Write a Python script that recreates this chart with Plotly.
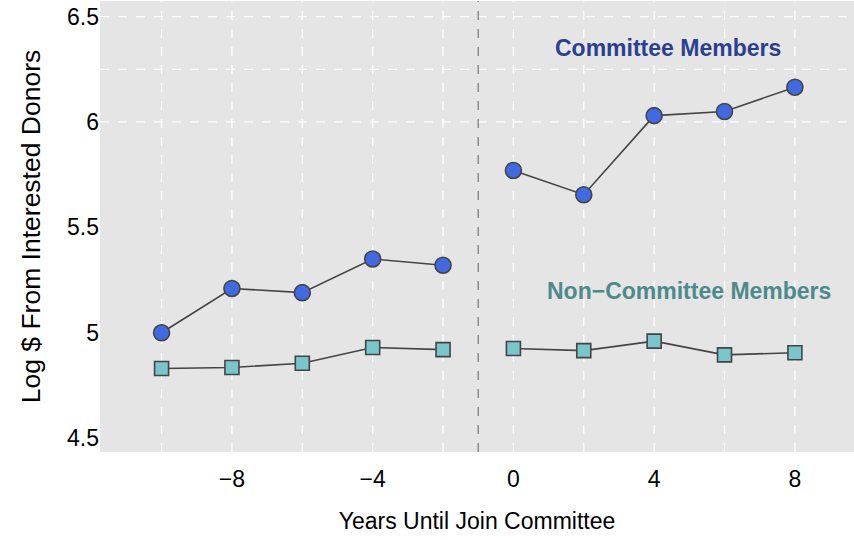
import plotly.graph_objects as go

years_pre = [-10, -8, -6, -4, -2]
years_post = [0, 2, 4, 6, 8]
comm_pre = [5.00, 5.21, 5.19, 5.35, 5.32]
comm_post = [5.77, 5.655, 6.03, 6.05, 6.165]
non_pre = [4.83, 4.835, 4.855, 4.93, 4.92]
non_post = [4.925, 4.915, 4.96, 4.895, 4.905]
x_ticks = [-8, -4, 0, 4, 8]
x_tick_text = ["\u22128", "\u22124", "0", "4", "8"]
y_ticks = [4.5, 5, 5.5, 6, 6.5]
y_tick_text = ["4.5", "5", "5.5", "6", "6.5"]
h_grid = [6.0, 6.25, 6.5]
v_grid = [-10, -8, -6, -4, -2, 0, 2, 4, 6, 8]

fig = go.Figure()

line_style = dict(color="#444444", width=1.6)
for xs, ys in [(years_pre, non_pre), (years_post, non_post)]:
    fig.add_trace(go.Scatter(x=xs, y=ys, mode="lines+markers", line=line_style,
                             marker=dict(symbol="square", size=14, color="#79C5CC",
                                         line=dict(color="#444444", width=1.6)),
                             showlegend=False))
for xs, ys in [(years_pre, comm_pre), (years_post, comm_post)]:
    fig.add_trace(go.Scatter(x=xs, y=ys, mode="lines+markers", line=line_style,
                             marker=dict(symbol="circle", size=16, color="#4169E1",
                                         line=dict(color="#444444", width=1.6)),
                             showlegend=False))

shapes = []
for v in v_grid:
    shapes.append(dict(type="line", xref="x", yref="paper", x0=v, x1=v, y0=0, y1=1,
                       line=dict(color="white", width=1.3, dash="dash"), layer="below"))
for h in h_grid:
    shapes.append(dict(type="line", xref="paper", yref="y", x0=0, x1=1, y0=h, y1=h,
                       line=dict(color="white", width=1.3, dash="dash"), layer="below"))
shapes.append(dict(type="line", xref="x", yref="paper", x0=-1, x1=-1, y0=0, y1=1,
                   line=dict(color="#7f7f7f", width=1.3, dash="dash"), layer="above"))

fig.update_layout(
    width=854, height=540,
    margin=dict(l=100, r=0, t=1, b=88),
    paper_bgcolor="white", plot_bgcolor="#E5E5E5",
    shapes=shapes,
    font=dict(family="Liberation Sans, Arial, sans-serif", color="black"),
    xaxis=dict(range=[-11.75, 9.68], tickvals=x_ticks, ticktext=x_tick_text,
               showgrid=False, zeroline=False, tickfont=dict(size=23),
               ticks="outside", ticklen=6, tickcolor="rgba(0,0,0,0)",
               title=dict(text="Years Until Join Committee", font=dict(size=23), standoff=22)),
    yaxis=dict(range=[4.434, 6.574], tickvals=y_ticks, ticktext=y_tick_text,
               showgrid=False, zeroline=False, tickfont=dict(size=23),
               ticks="", ticklen=0,
               title=dict(text="Log $ From Interested Donors", font=dict(size=26.5), standoff=18)),
    annotations=[
        dict(x=4.39, y=6.35, xref="x", yref="y", text="<b>Committee Members</b>",
             showarrow=False, font=dict(size=23, color="#2B3F8F")),
        dict(x=4.99, y=5.2, xref="x", yref="y", text="<b>Non\u2212Committee Members</b>",
             showarrow=False, font=dict(size=23, color="#4E8A8C")),
    ],
)

fig.write_html("out.html", config={"displayModeBar": False},
               post_script="document.body.style.margin='0';")
